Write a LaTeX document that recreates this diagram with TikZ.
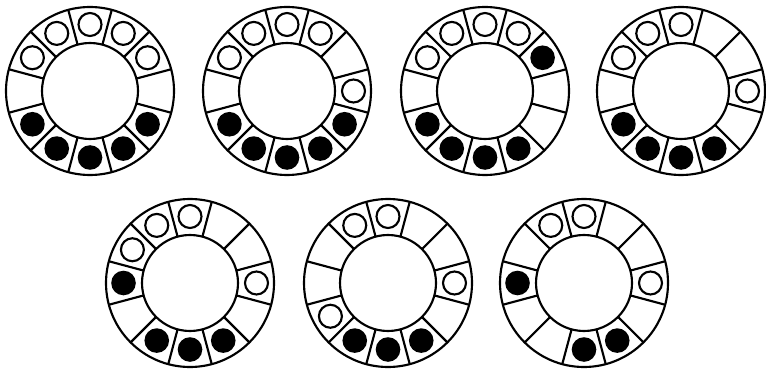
\documentclass[tikz,border=0pt]{standalone}
\usepackage{tikz}

\tikzset{
  ringline/.style={line width=1.6pt},
  whitebead/.style={draw, line width=1.6pt, fill=white},
  blackbead/.style={fill=black}
}
% #1,#2: centre of the ring, #3: angles of the open beads, #4: angles of the filled beads
\newcommand{\beadring}[4]{%
  \begin{scope}[shift={(#1,#2)}]
    \draw[ringline] (0,0) circle [radius=84] (0,0) circle [radius=48];
    \foreach \a in {15,45,...,345} \draw[ringline] (\a:48) -- (\a:84);
    \foreach \a in {#3} \draw[whitebead] (\a:66.5) circle [radius=11.5];
    \foreach \a in {#4} \fill[blackbead] (\a:66.5) circle [radius=12.3];
  \end{scope}}

\begin{document}
\begin{tikzpicture}[x=0.75pt,y=0.75pt]
\useasboundingbox (0,0) rectangle (766,368);

% top row
\beadring{90}{277}{30,60,90,120,150}{210,240,270,300,330}
\beadring{287}{277}{0,60,90,120,150}{210,240,270,300,330}
\beadring{485}{277}{60,90,120,150}{30,210,240,270,300}
\beadring{681}{277}{0,90,120,150}{210,240,270,300}

% bottom row
\beadring{190}{85}{0,90,120,150}{180,240,270,300}
\beadring{388}{85}{0,90,120,210}{240,270,300}
\beadring{584}{85}{0,90,120}{180,270,300}

\end{tikzpicture}
\end{document}
